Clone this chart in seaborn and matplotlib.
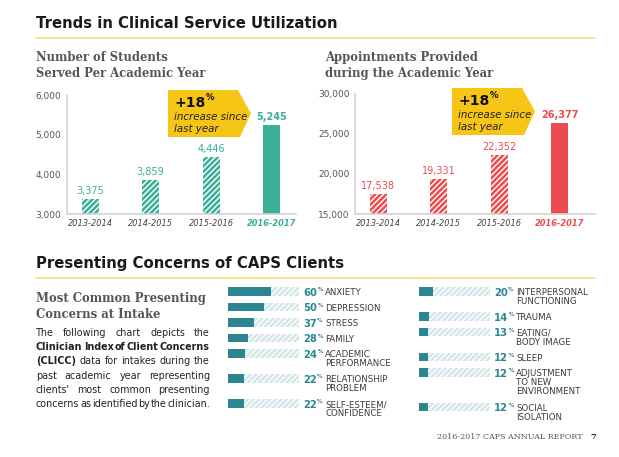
import numpy as np
import pandas as pd
import matplotlib
matplotlib.use("Agg")
import matplotlib.pyplot as plt
from matplotlib.patches import Polygon
import seaborn as sns

# ---------------- data ----------------
years = ["2013-2014", "2014-2015", "2015-2016", "2016-2017"]
students = [3375, 3859, 4446, 5245]
appointments = [17538, 19331, 22352, 26377]
students_growth = "+18"
appointments_growth = "+18"
student_ticks = [3000, 4000, 5000, 6000]
appointment_ticks = [15000, 20000, 25000, 30000]

concerns_left = ["ANXIETY", "DEPRESSION", "STRESS", "FAMILY",
                 "ACADEMIC\nPERFORMANCE", "RELATIONSHIP\nPROBLEM",
                 "SELF-ESTEEM/\nCONFIDENCE"]
pct_left = [60, 50, 37, 28, 24, 22, 22]
concerns_right = ["INTERPERSONAL\nFUNCTIONING", "TRAUMA", "EATING/\nBODY IMAGE",
                  "SLEEP", "ADJUSTMENT\nTO NEW\nENVIRONMENT", "SOCIAL\nISOLATION"]
pct_right = [20, 14, 13, 12, 12, 12]

paragraph = [
    [("The", False), ("following", False), ("chart", False), ("depicts", False), ("the", False)],
    [("Clinician", True), ("Index", True), ("of", True), ("Client", True), ("Concerns", True)],
    [("(CLICC)", True), ("data", False), ("for", False), ("intakes", False), ("during", False), ("the", False)],
    [("past", False), ("academic", False), ("year", False), ("representing", False)],
    [("clients'", False), ("most", False), ("common", False), ("presenting", False)],
    [("concerns", False), ("as", False), ("identified", False), ("by", False), ("the", False), ("clinician.", False)],
]

# ---------------- style ----------------
sns.set_style("white")
plt.rcParams["font.family"] = ["DejaVu Sans"]
plt.rcParams["hatch.linewidth"] = 1.0

W, H = 619, 457
PT = 72 / 100.0  # px -> pt


def fx(x):
    return x / W


def fy(y):
    return 1 - y / H


def fs(px):
    return px * PT


TEAL = "#3aaf97"
RED = "#ec4c4f"
DARKTEAL = "#2b8691"
TRACK = "#d3e6e9"
YELLOW = "#f6c515"
GRAY = "#555555"
SERIF = "DejaVu Serif"

fig = plt.figure(figsize=(W / 100, H / 100), dpi=100)
fig.patch.set_facecolor("white")
renderer = fig.canvas.get_renderer()


def section_title(text, y, liney):
    fig.text(fx(36), fy(y), text, fontsize=fs(14.9), weight="bold", color="#1a1a1a",
             ha="left", va="center_baseline")
    fig.add_artist(plt.Line2D([fx(36), fx(595)], [fy(liney), fy(liney)],
                              color="#f3e08a", lw=1.3))


section_title("Trends in Clinical Service Utilization", 22, 38)
section_title("Presenting Concerns of CAPS Clients", 262, 278)

# subtitles
for x, lines in [(36, ["Number of Students", "Served Per Academic Year"]),
                 (325, ["Appointments Provided", "during the Academic Year"])]:
    for k, s in enumerate(lines):
        fig.text(fx(x), fy(56 + 16 * k), s, family=SERIF, weight="bold",
                 fontsize=fs(11.6), color=GRAY, ha="left", va="center_baseline")


def vchart(x0, x1, ytop, ybot, values, ylim, ticks, color, xlim):
    ax = fig.add_axes([fx(x0), fy(ybot), (x1 - x0) / W, (ybot - ytop) / H])
    df = pd.DataFrame({"year": years, "value": values})
    sns.barplot(data=df, x="year", y="value", hue="year", palette=[color] * 4,
                legend=False, width=0.28, errorbar=None, saturation=1, ax=ax)
    for i, p in enumerate(ax.patches):
        p.set_linewidth(0)
        if i < 3:
            p.set_hatch("//////")
            p.set_edgecolor("#ffffff")
            try:
                p.set_hatchcolor((1, 1, 1, 0.55))
            except Exception:
                pass
    ax.set_ylim(*ylim)
    ax.set_xlim(*xlim)
    ax.set_yticks(ticks)
    ax.set_yticklabels([f"{t:,}" for t in ticks])
    ax.set_xlabel("")
    ax.set_ylabel("")
    for s in ["top", "right"]:
        ax.spines[s].set_visible(False)
    for s in ["left", "bottom"]:
        ax.spines[s].set_color("#d3d3d3")
        ax.spines[s].set_linewidth(1.2)
    ax.tick_params(axis="y", length=0, labelsize=fs(9), labelcolor="#555555", pad=4)
    ax.tick_params(axis="x", length=0, labelsize=fs(8.3), labelcolor="#444444", pad=3.5)
    ax.set_facecolor("none")
    for i, lab in enumerate(ax.get_xticklabels()):
        lab.set_style("italic")
        if i == 3:
            lab.set_color(color)
            lab.set_weight("bold")
    span = ylim[1] - ylim[0]
    for i, v in enumerate(values):
        ax.text(i, v + span * 0.025, f"{v:,}", ha="center", va="bottom",
                fontsize=fs(9.8), color=color,
                weight="bold" if i == 3 else "normal")
    return ax


vchart(67, 296, 95, 214, students, (3000, 6000), student_ticks, TEAL, (-0.38, 3.4))
vchart(355, 595, 94, 214, appointments, (15000, 30000), appointment_ticks, RED, (-0.38, 3.58))


def callout(x0, ytop, growth):
    x1, tip, ybot = x0 + 70, x0 + 83, ytop + 47
    ymid = (ytop + ybot) / 2
    pts = [(x0, ytop), (x1, ytop), (tip, ymid), (x1 + 2, ybot), (x0, ybot)]
    poly = Polygon([(fx(a), fy(b)) for a, b in pts], closed=True,
                   transform=fig.transFigure, facecolor=YELLOW, edgecolor="none")
    fig.add_artist(poly)
    t = fig.text(fx(x0 + 6), fy(ytop + 17), growth, fontsize=fs(14), weight="bold",
                 color="#111111", ha="left", va="baseline")
    bb = t.get_window_extent(renderer)
    fig.text(fx(x0 + 6) + bb.width / W + 0.5 / W, fy(ytop + 10), "%", fontsize=fs(8.5),
             weight="bold", color="#111111", ha="left", va="baseline")
    fig.text(fx(x0 + 6), fy(ytop + 26.5), "increase since", fontsize=fs(10.3),
             style="italic", color="#222222", ha="left", va="center_baseline")
    fig.text(fx(x0 + 6), fy(ytop + 37.5), "last year", fontsize=fs(10.3),
             style="italic", color="#222222", ha="left", va="center_baseline")


callout(168, 90, students_growth)
callout(452, 88, appointments_growth)

# left text block
for k, s in enumerate(["Most Common Presenting", "Concerns at Intake"]):
    fig.text(fx(36), fy(297 + 15.5 * k), s, family=SERIF, weight="bold",
             fontsize=fs(11.6), color=GRAY, ha="left", va="center_baseline")

for k, line in enumerate(paragraph):
    y = fy(332 + 14.2 * k)
    objs = []
    for w, b in line:
        objs.append(fig.text(0, y, w, fontsize=fs(9.7), weight="bold" if b else "normal",
                             color="#222222", ha="left", va="center_baseline"))
    widths = [o.get_window_extent(renderer).width for o in objs]
    gap = (174 - sum(widths)) / (len(objs) - 1)
    xx = 36
    for o, wd in zip(objs, widths):
        o.set_x(fx(xx))
        xx += wd + gap


def hbars(x0, labels, pcts, top):
    lines = [lab.count("\n") + 1 for lab in labels]
    pos = [top]
    for n in lines[:-1]:
        pos.append(pos[-1] + 6 + 9.5 * n)
    ax = fig.add_axes([fx(x0), fy(425), 71 / W, (425 - 280) / H])
    df = pd.DataFrame({"pos": pos, "track": [100] * len(pos), "pct": pcts})
    wd = 8.5 / np.diff(pos).min()
    sns.barplot(data=df, x="track", y="pos", orient="h", native_scale=True,
                color=TRACK, saturation=1, width=wd, errorbar=None, ax=ax)
    for p in ax.patches:
        p.set_linewidth(0)
        p.set_hatch("//////")
        p.set_edgecolor("#ffffff")
        try:
            p.set_hatchcolor((1, 1, 1, 0.8))
        except Exception:
            pass
    n0 = len(ax.patches)
    sns.barplot(data=df, x="pct", y="pos", orient="h", native_scale=True,
                color=DARKTEAL, saturation=1, width=wd, errorbar=None, ax=ax)
    for p in ax.patches[n0:]:
        p.set_linewidth(0)
    ax.set_xlim(0, 100)
    ax.set_ylim(425, 280)
    ax.axis("off")
    for y, lab, v in zip(pos, labels, pcts):
        t = fig.text(fx(x0 + 75), fy(y), str(v), fontsize=fs(10), weight="bold",
                     color=DARKTEAL, ha="left", va="center_baseline")
        bb = t.get_window_extent(renderer)
        fig.text(fx(x0 + 75) + (bb.width + 0.5) / W, fy(y - 2.5), "%", fontsize=fs(5.5),
                 weight="bold", color=DARKTEAL, ha="left", va="center_baseline")
        for k, s in enumerate(lab.split("\n")):
            fig.text(fx(x0 + 97), fy(y + 9 * k), s, fontsize=fs(8.6), color="#3a3a3a",
                     ha="left", va="center_baseline")


hbars(228, concerns_left, pct_left, 291.7)
hbars(419, concerns_right, pct_right, 291.7)

# footer
fig.text(fx(583), fy(436), "2016-2017 CAPS ANNUAL REPORT", family=SERIF, fontsize=fs(8),
         color="#555555", ha="right", va="center_baseline")
fig.text(fx(590), fy(436), "7", family=SERIF, fontsize=fs(8.5), weight="bold",
         color="#1c2a4a", ha="left", va="center_baseline")

fig.savefig("out.png", dpi=100, facecolor="white")
